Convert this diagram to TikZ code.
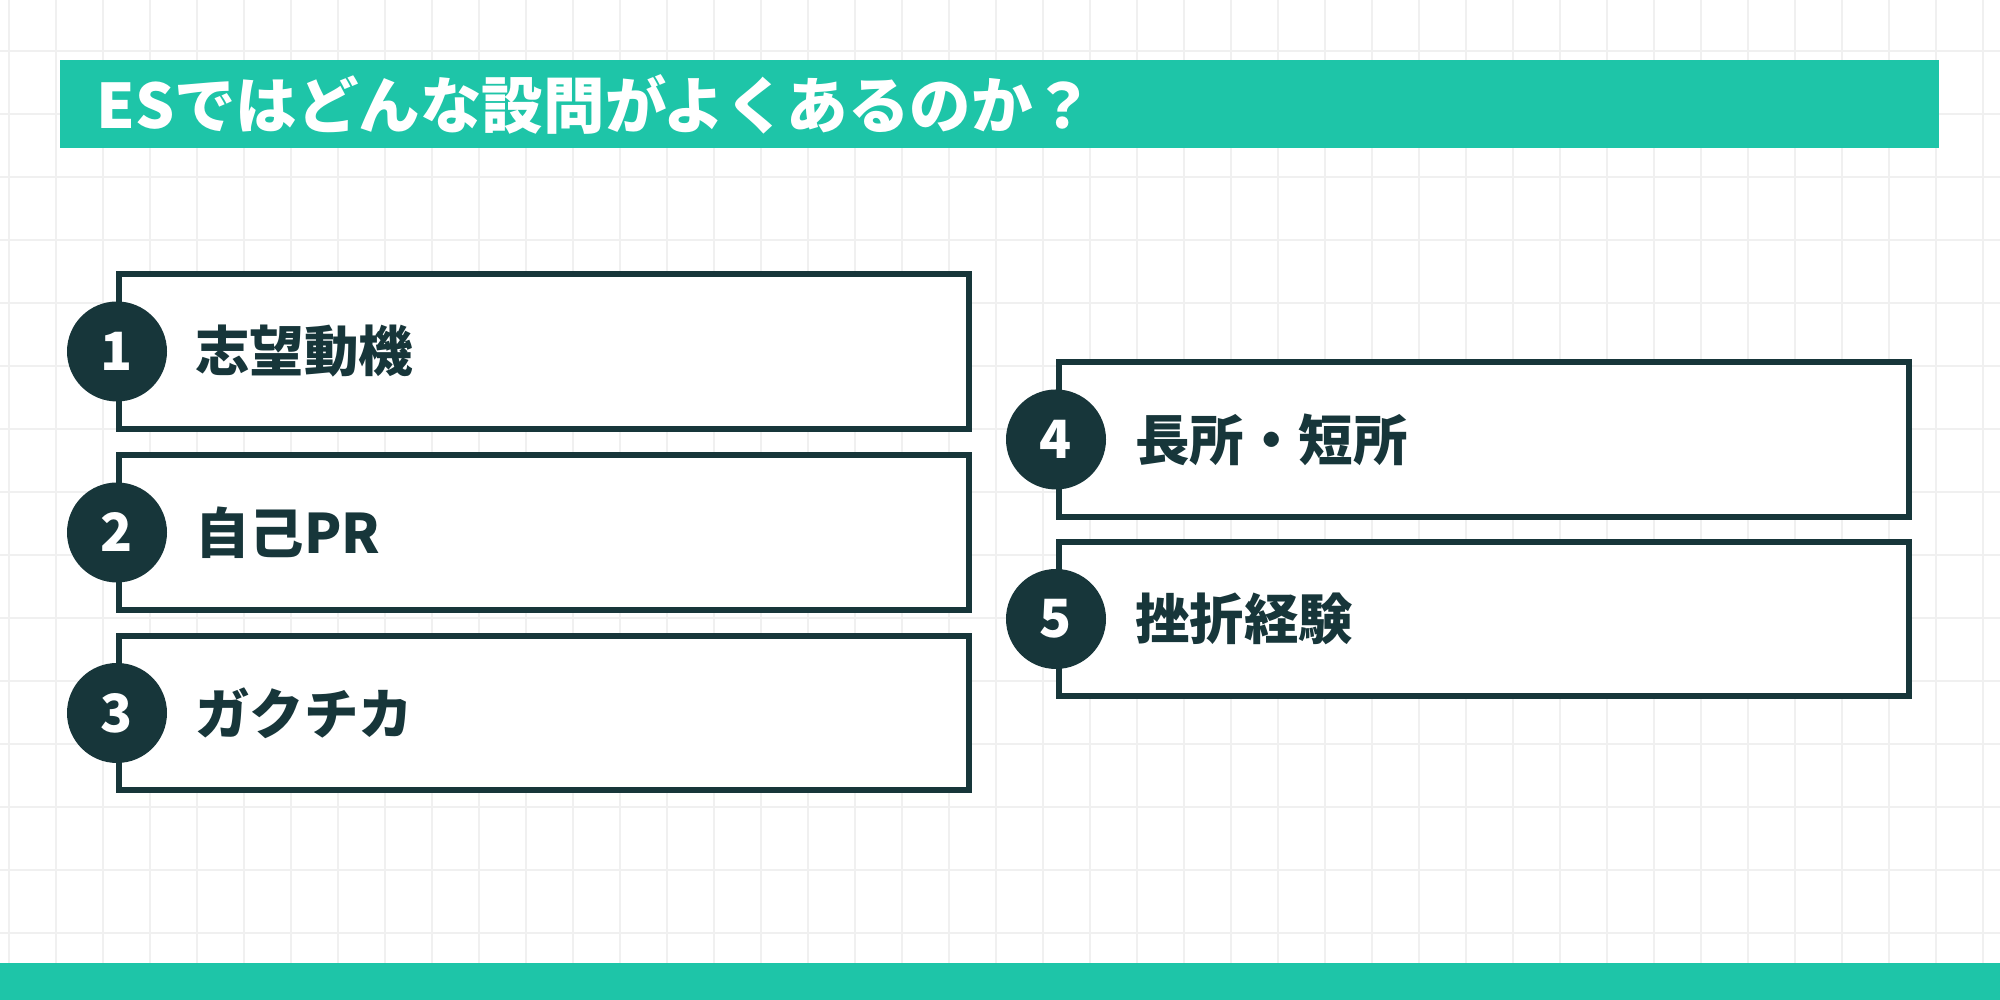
\documentclass[tikz,border=0pt]{standalone}
\usepackage{fontspec}
\setmainfont{Noto Sans CJK JP}[BoldFont={* Black}]
\definecolor{teal}{HTML}{1EC5A8}
\definecolor{ink}{HTML}{17363A}
\begin{document}
\begin{tikzpicture}
\tikzstyle{item}=[draw=ink,line width=1.8pt,fill=white]
\tikzstyle{num}=[circle,fill=ink,text=white,minimum size=1cm,inner sep=0pt,font=\bfseries\fontsize{15}{15}\selectfont]
\tikzstyle{label}=[anchor=west,text=ink,font=\bfseries\fontsize{15.5}{15.5}\selectfont]

\useasboundingbox (0,0) rectangle (20,10);
\fill[white] (0,0) rectangle (20,10);

% background grid
\foreach \x in {0.09,0.56,...,20}
  \draw[black!6,line width=0.5pt] (\x,0) -- (\x,10);
\foreach \y in {0.04,0.67,...,10}
  \draw[black!6,line width=0.5pt] (0,\y) -- (20,\y);

% title and footer
\fill[teal] (0.60,8.52) rectangle (19.39,9.40);
\node[anchor=west,text=white,font=\bfseries\fontsize{17.5}{17.5}\selectfont] (title) at (0.84,8.96) {ESではどんな設問がよくあるのか？};
\fill[teal] (0,0) rectangle (20,0.37);

% left column
\draw[item] (1.19,5.71) rectangle (9.69,7.26);
\node[num] (n1) at (1.17,6.485) {1};
\node[label] (t1) at (1.83,6.485) {志望動機};

\draw[item] (1.19,3.90) rectangle (9.69,5.45);
\node[num] (n2) at (1.17,4.675) {2};
\node[label] (t2) at (1.83,4.675) {自己PR};

\draw[item] (1.19,2.10) rectangle (9.69,3.64);
\node[num] (n3) at (1.17,2.87) {3};
\node[label] (t3) at (1.83,2.87) {ガクチカ};

% right column
\draw[item] (10.59,4.83) rectangle (19.09,6.38);
\node[num] (n4) at (10.56,5.605) {4};
\node[label] (t4) at (11.23,5.605) {長所・短所};

\draw[item] (10.59,3.04) rectangle (19.09,4.58);
\node[num] (n5) at (10.56,3.81) {5};
\node[label] (t5) at (11.23,3.81) {挫折経験};

\end{tikzpicture}
\end{document}
